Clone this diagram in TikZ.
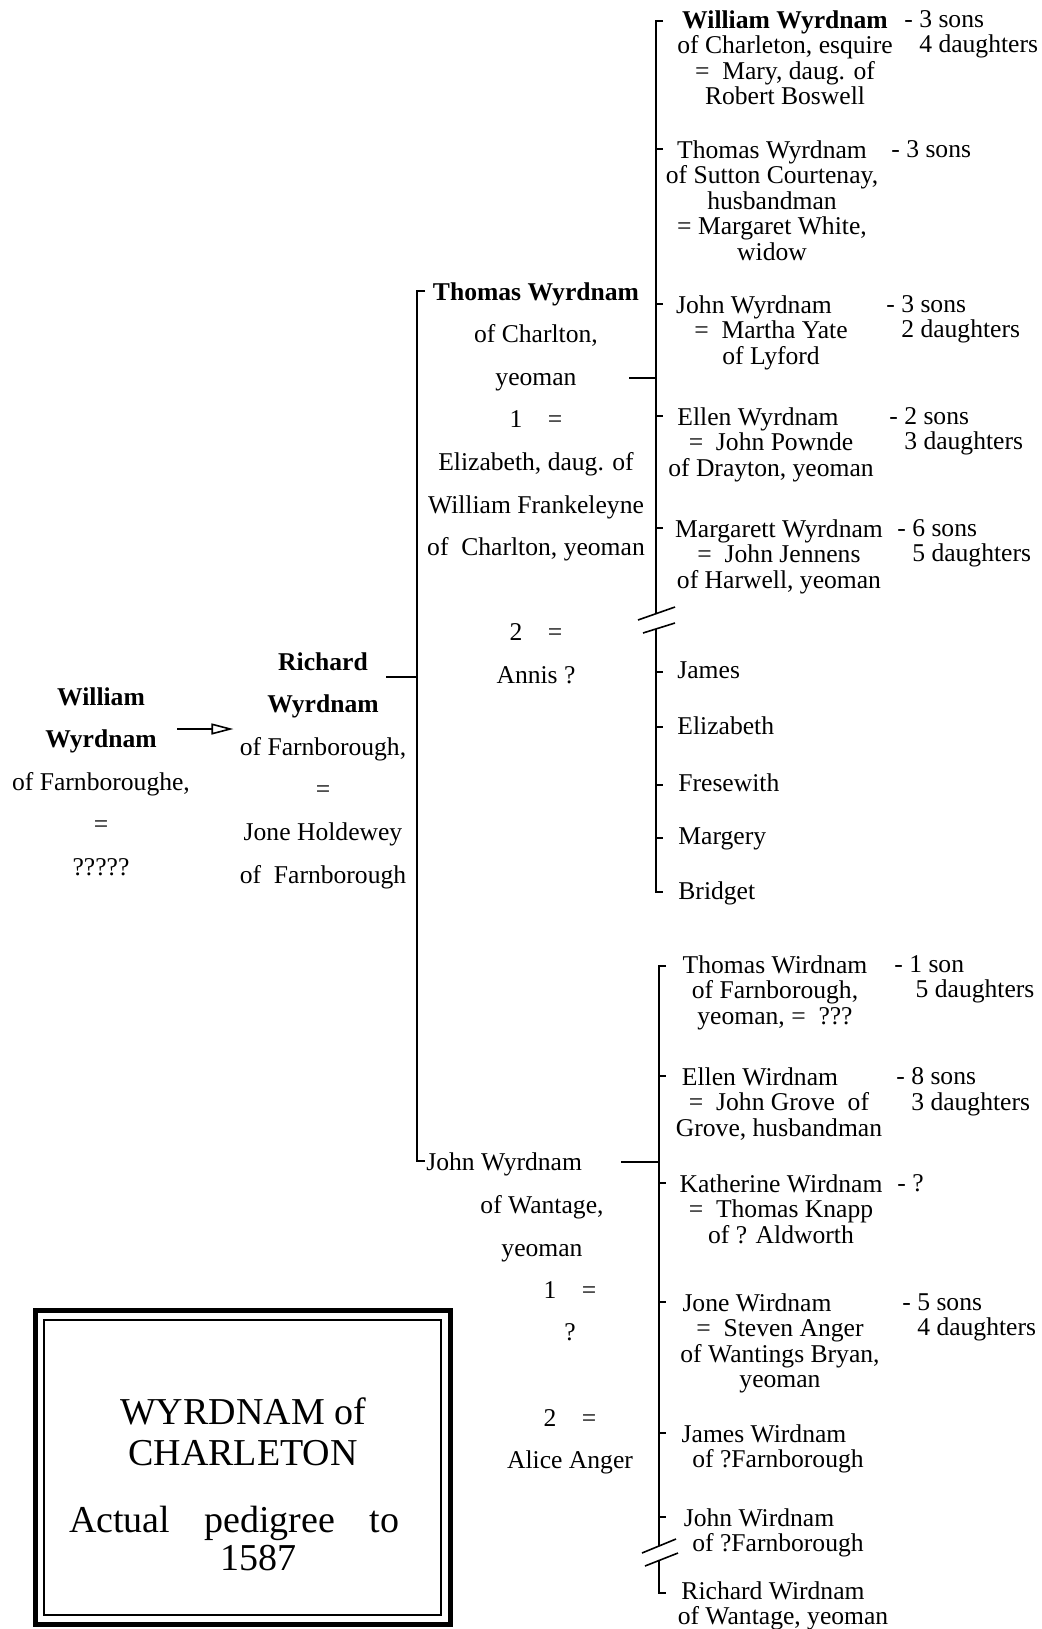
\documentclass[tikz,border=0pt]{standalone}
\usepackage{fontspec}
\setmainfont{Liberation Serif}
\usetikzlibrary{arrows.meta}

\begin{document}
\begin{tikzpicture}[x=0.5pt,y=-0.5pt,
  kid/.style={anchor=north,inner sep=0pt,align=center,font=\fontsize{12.8}{12.8}\selectfont},
  tally/.style={anchor=north west,inner sep=0pt,align=left,font=\fontsize{12.8}{12.8}\selectfont},
  elder/.style={anchor=north,inner sep=0pt,align=center,font=\fontsize{12.8}{21.3}\selectfont},
  stem/.style={line width=0.8pt},
  tick/.style={line width=0.8pt}]
  \useasboundingbox (0,0) rectangle (1042,1629);

  % first generations
  \node[elder] (will) at (101,687) {\textbf{William}\\\textbf{Wyrdnam}\\of Farnboroughe,\\=\\?????};
  \node[elder] (rich) at (323,652) {\textbf{Richard}\\\textbf{Wyrdnam}\\of Farnborough,\\=\\Jone Holdewey\\of\ \ Farnborough};
  \coordinate (arr) at (177,729);
  \draw[stem,shorten >=3pt,-{Triangle[open,length=11pt,width=5.5pt]}] (arr) -- (arr -| rich.west);

  % sons of Richard
  \coordinate (mtop) at (417,291);
  \coordinate (mbot) at (417,1161);
  \draw[stem] ([xshift=4pt]mtop) -- (mtop) -- (mbot) -- ([xshift=4pt]mbot);
  \coordinate (rc) at (386,677);
  \draw[stem] (rc) -- (rc -| mtop);

  \node[elder] (thom) at (536,282) {\textbf{Thomas Wyrdnam}\\of Charlton,\\yeoman\\1\hspace{1em}=\\Elizabeth, daug. of\\William Frankeleyne\\of\ \ Charlton, yeoman\\[21.3pt]2\hspace{1em}=\\Annis ?};
  \node[elder,anchor=north west] (jn) at (426,1152) {John Wyrdnam};
  \node[elder] (jnd) at (542,1195) {of Wantage,\\yeoman};
  \node[elder] (jnw) at (570,1281) {1\hspace{1em}=\\?\\[21.3pt]2\hspace{1em}=\\Alice Anger};

  % children of Thomas
  \coordinate (ttop) at (656,21);
  \coordinate (tbot) at (656,892);
  \draw[stem] ([xshift=3.5pt]ttop) -- (ttop) -- (656,614);
  \draw[stem] (656,629) -- (tbot) -- ([xshift=3.5pt]tbot);
  \draw[stem] (638,620) -- (675,607);
  \draw[stem] (643,633) -- (675,623);
  \coordinate (tc) at (629,378);
  \draw[stem] (tc) -- (tc -| ttop);
  \foreach \ty in {149,304,416,528,672,727,785,838}
    \draw[tick] (656,\ty) -- ++(7,0);

  \node[kid] (w1) at (785,10) {\textbf{William Wyrdnam}\\of Charleton, esquire\\=\ \ Mary, daug. of\\Robert Boswell};
  \node[tally] (n1) at (904,10) {- 3 sons\\\hphantom{-}\ 4 daughters};
  \node[kid] (w2) at (772,140) {Thomas Wyrdnam\\of Sutton Courtenay,\\husbandman\\= Margaret White,\\widow};
  \node[tally] (n2) at (891,140) {- 3 sons};
  \node[kid] (w3) at (771,295) {John Wyrdnam\rule{17pt}{0pt}\\=\ \ Martha Yate\\of Lyford};
  \node[tally] (n3) at (886,295) {- 3 sons\\\hphantom{-}\ 2 daughters};
  \node[kid] (w4) at (771,407) {Ellen Wyrdnam\rule{13pt}{0pt}\\=\ \ John Pownde\\of Drayton, yeoman};
  \node[tally] (n4) at (889,407) {- 2 sons\\\hphantom{-}\ 3 daughters};
  \node[kid] (w5) at (779,519) {Margarett Wyrdnam\\=\ \ John Jennens\\of Harwell, yeoman};
  \node[tally] (n5) at (897,519) {- 6 sons\\\hphantom{-}\ 5 daughters};
  \node[kid,anchor=north west] (w6) at (677,661) {James};
  \node[kid,anchor=north west] (w7) at (677,716) {Elizabeth};
  \node[kid,anchor=north west] (w8) at (678,773) {Fresewith};
  \node[kid,anchor=north west] (w9) at (678,827) {Margery};
  \node[kid,anchor=north west] (w10) at (678,881) {Bridget};

  % children of John
  \coordinate (btop) at (659,966);
  \coordinate (bbot) at (659,1593);
  \draw[stem] ([xshift=3.5pt]btop) -- (btop) -- (659,1546);
  \draw[stem] (659,1560) -- (bbot) -- ([xshift=3.5pt]bbot);
  \draw[stem] (642,1553) -- (676,1539);
  \draw[stem] (645,1566) -- (678,1553);
  \coordinate (jc) at (621,1162);
  \draw[stem] (jc) -- (jc -| btop);
  \foreach \ty in {1076,1183,1302,1433,1517}
    \draw[tick] (659,\ty) -- ++(7,0);

  \node[kid] (v1) at (775,955) {Thomas Wirdnam\\of Farnborough,\\yeoman, =\ \ ???};
  \node[tally] (m1) at (894,955) {- 1 son\\\hphantom{-}\ \ 5 daughters};
  \node[kid] (v2) at (779,1067) {Ellen Wirdnam\rule{19pt}{0pt}\\=\ \ John Grove\ \ of\\Grove, husbandman};
  \node[tally] (m2) at (896,1067) {- 8 sons\\\hphantom{-}\ 3 daughters};
  \node[kid] (v3) at (781,1174) {Katherine Wirdnam\\=\ \ Thomas Knapp\\of ? Aldworth};
  \node[tally] (m3) at (897,1174) {- ?};
  \node[kid] (v4) at (780,1293) {Jone Wirdnam\rule{23pt}{0pt}\\=\ \ Steven Anger\\of Wantings Bryan,\\yeoman};
  \node[tally] (m4) at (902,1293) {- 5 sons\\\hphantom{-}\ 4 daughters};
  \node[kid] (v5) at (778,1424) {James Wirdnam\rule{14pt}{0pt}\\of ?Farnborough};
  \node[kid] (v6) at (778,1508) {John Wirdnam\rule{19pt}{0pt}\\of ?Farnborough};
  \node[kid] (v7) at (783,1581) {Richard Wirdnam\rule{10pt}{0pt}\\of Wantage, yeoman};

  % title box
  \draw[line width=2.2pt] (35.5,1310.5) rectangle (450.5,1624.5);
  \draw[line width=0.7pt] (44,1320) rectangle (441,1615);
  \node[inner sep=0pt,anchor=north,align=center,font=\fontsize{19}{20.5}\selectfont] (title) at (243,1397) {WYRDNAM of\\CHARLETON};
  \node[inner sep=0pt,anchor=north,align=center,font=\fontsize{19}{19}\selectfont] (sub) at (243,1506) {\makebox[165pt][s]{Actual pedigree to}\rule{9pt}{0pt}\\\hspace*{15pt}1587};
\end{tikzpicture}
\end{document}
